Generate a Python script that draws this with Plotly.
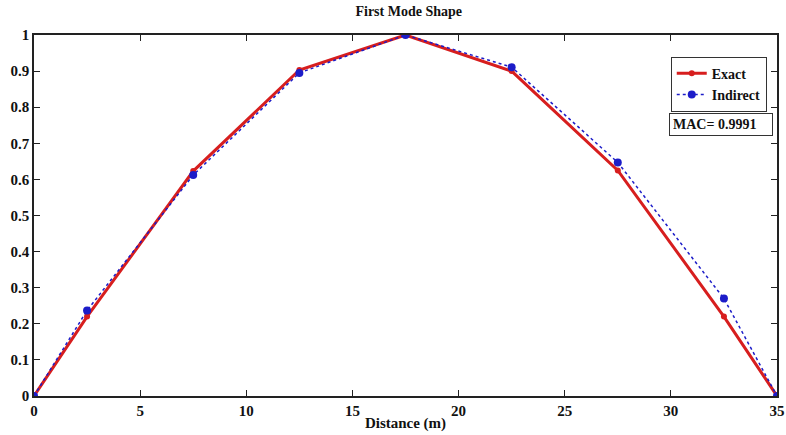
import plotly.graph_objects as go

distance = [0, 2.5, 7.5, 12.5, 17.5, 22.5, 27.5, 32.5, 35]
exact = [0, 0.22, 0.623, 0.903, 1.0, 0.90, 0.625, 0.22, 0]
indirect = [0, 0.237, 0.612, 0.895, 1.0, 0.911, 0.647, 0.27, 0]
x_ticks = [0, 5, 10, 15, 20, 25, 30, 35]
y_ticks = [0, 0.1, 0.2, 0.3, 0.4, 0.5, 0.6, 0.7, 0.8, 0.9, 1]
y_tick_text = ["0", "0.1", "0.2", "0.3", "0.4", "0.5", "0.6", "0.7", "0.8", "0.9", "1"]

FONT = "Liberation Serif"

fig = go.Figure()
fig.add_trace(go.Scatter(
    x=distance, y=exact, name="<b>Exact</b>", mode="lines+markers",
    line=dict(color="#d71e1e", width=3),
    marker=dict(color="#d71e1e", size=6, symbol="circle"),
))
fig.add_trace(go.Scatter(
    x=distance, y=indirect, name="<b>Indirect</b>", mode="lines+markers",
    line=dict(color="#1c1cc8", width=1.5, dash="dot"),
    marker=dict(color="#1c1cc8", size=8, symbol="circle"),
))

axis_common = dict(
    showgrid=False, zeroline=False, showline=True, mirror="ticks",
    linecolor="#222222", linewidth=1.5, ticks="inside", ticklen=6,
    tickcolor="#222222", tickfont=dict(family=FONT, size=15, color="#111111"),
    automargin=False, ticklabeloverflow="allow",
)

fig.update_layout(
    width=786, height=435,
    margin=dict(l=34, r=9, t=35, b=39),
    paper_bgcolor="white", plot_bgcolor="white",
    font=dict(family=FONT, color="#111111"),
    title=dict(text="<b>First Mode Shape</b>", x=0.52, xanchor="center",
               y=0.985, yanchor="top", font=dict(family=FONT, size=14),
               automargin=False),
    xaxis=dict(range=[0, 35], tickvals=x_ticks,
               ticktext=[f"<b>{t}</b>" for t in x_ticks],
               title=dict(text="<b>Distance (m)</b>", standoff=0,
                          font=dict(family=FONT, size=15)),
               **axis_common),
    yaxis=dict(range=[0, 1], tickvals=y_ticks,
               ticktext=[f"<b>{t}</b>" for t in y_tick_text],
               **axis_common),
    legend=dict(x=0.857, y=0.94, xanchor="left", yanchor="top",
                bgcolor="white", bordercolor="#333333", borderwidth=1,
                font=dict(family=FONT, size=14), tracegroupgap=0,
                itemwidth=30),
    showlegend=True,
)

fig.add_annotation(
    xref="paper", yref="paper", x=0.855, y=0.785, xanchor="left", yanchor="top",
    text="<b>MAC= 0.9991</b>", showarrow=False, width=96, align="left",
    font=dict(family=FONT, size=14, color="#111111"),
    bordercolor="#333333", borderwidth=1, borderpad=3, bgcolor="white",
)

fig.write_html("out.html")
